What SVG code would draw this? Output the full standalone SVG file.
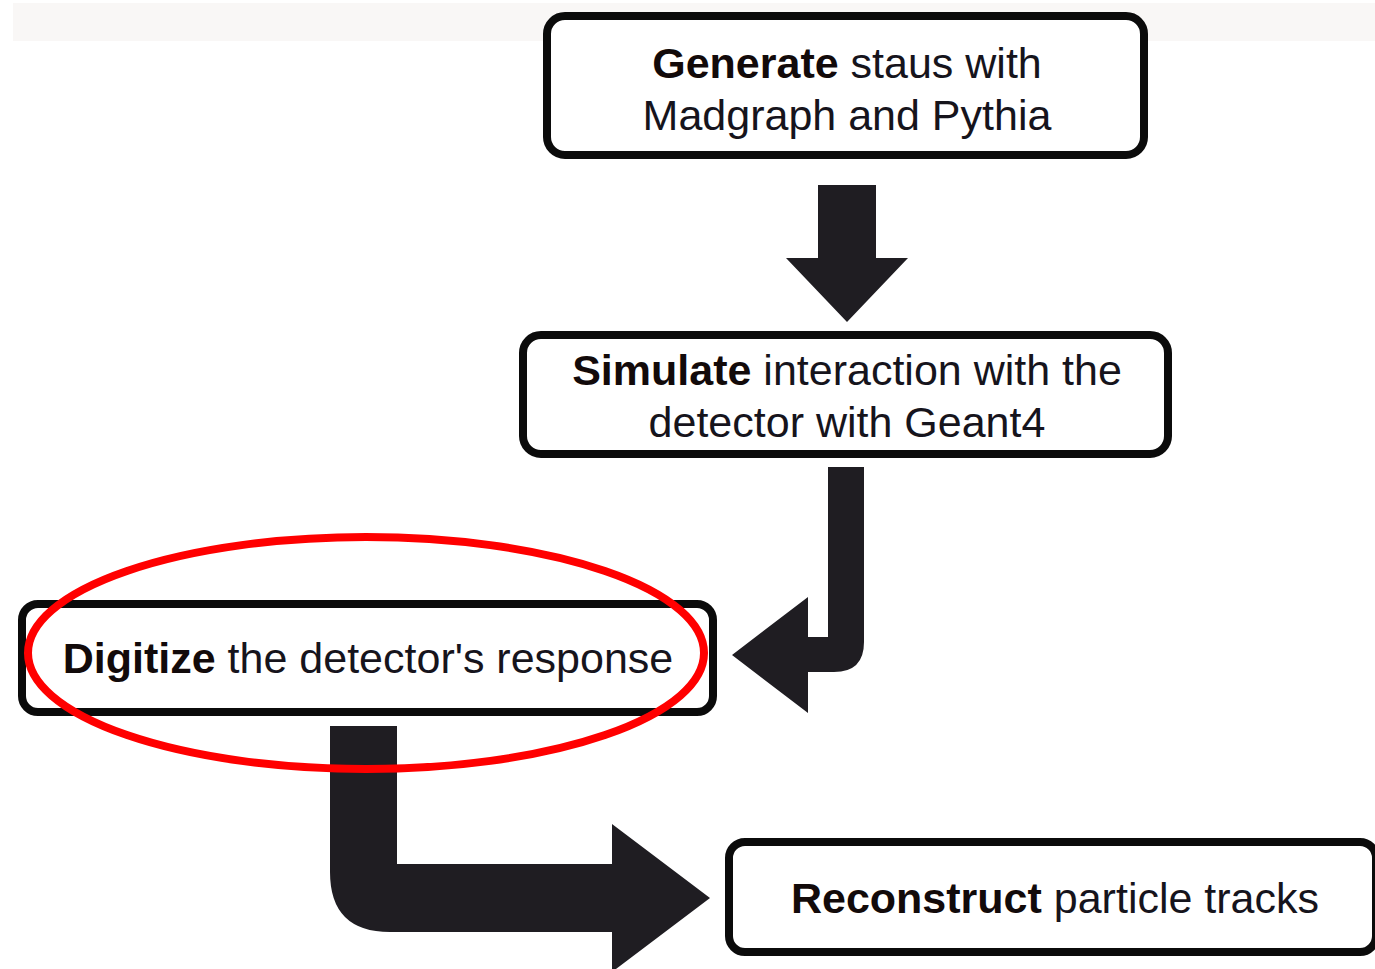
<svg xmlns="http://www.w3.org/2000/svg" width="1375" height="969" viewBox="0 0 1375 969">
  <style>
    .box { fill: #ffffff; stroke: #0b0b0b; stroke-width: 8; }
    .lbl { font-family: "Liberation Sans", Arial, sans-serif; font-size: 43px; fill: #16141c; text-anchor: middle; }
    .b { font-weight: bold; fill: #120a0a; }
    .arrow { fill: #1f1d22; }
    .mark { fill: none; stroke: #ff0000; stroke-width: 8; }
  </style>
  <rect x="0" y="0" width="1375" height="969" fill="#ffffff"/>
  <rect x="13" y="3" width="1362" height="38" fill="#f9f7f6"/>

  <g id="node-generate">
    <rect class="box" x="547" y="16" width="597" height="139" rx="18" ry="18"/>
    <text class="lbl" x="847" y="78"><tspan class="b">Generate</tspan> staus with</text>
    <text class="lbl" x="847" y="130">Madgraph and Pythia</text>
  </g>

  <g id="node-simulate">
    <rect class="box" x="523" y="335" width="645" height="119" rx="18" ry="18"/>
    <text class="lbl" x="847" y="385"><tspan class="b">Simulate</tspan> interaction with the</text>
    <text class="lbl" x="847" y="437">detector with Geant4</text>
  </g>

  <g id="node-digitize">
    <rect class="box" x="22" y="604" width="691" height="108" rx="16" ry="16"/>
    <text class="lbl" x="368" y="673"><tspan class="b">Digitize</tspan> the detector's response</text>
  </g>

  <g id="node-reconstruct">
    <rect class="box" x="729" y="842" width="647" height="110" rx="16" ry="16"/>
    <text class="lbl" x="1055" y="913"><tspan class="b">Reconstruct</tspan> particle tracks</text>
  </g>

  <g id="connectors">
    <path class="arrow" d="M818,185 L876,185 L876,258 L908,258 L847,322 L786,258 L818,258 Z"/>
    <path class="arrow" d="M828,467 L864,467 L864,642 Q864,672 834,672 L808,672 L808,713 L732,655 L808,597 L808,637 L828,637 Z"/>
    <path class="arrow" d="M330,726 L397,726 L397,864 L612,864 L612,824 L710,898 L612,972 L612,932 L390,932 Q330,932 330,872 Z"/>
  </g>

  <g id="highlight">
    <ellipse class="mark" cx="366" cy="653" rx="338" ry="116"/>
  </g>
</svg>
